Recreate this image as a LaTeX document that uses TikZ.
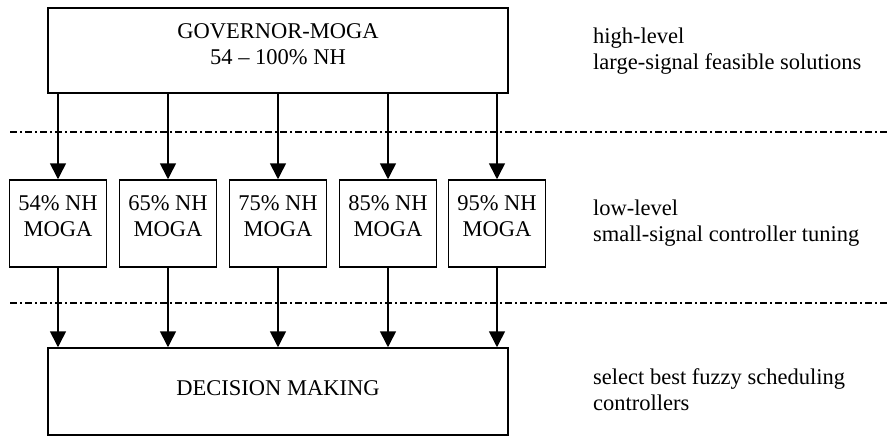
\documentclass[tikz,border=0pt]{standalone}
\usepackage{fontspec}
\setmainfont{Liberation Serif}
\usetikzlibrary{arrows.meta}
\begin{document}
\begin{tikzpicture}[x=1pt,y=-1pt,
  every node/.style={font=\fontsize{22.5}{26}\selectfont, inner sep=0pt},
  box/.style={draw, line width=1.5pt, minimum height=86pt},
  bigbox/.style={box, minimum width=460pt},
  smallbox/.style={box, minimum width=97pt, minimum height=87pt},
  lbl/.style={align=center, anchor=north},
  note/.style={align=left, anchor=north west},
  arr/.style={line width=1.6pt, -{Triangle[width=16pt,length=16pt]}},
  sep/.style={line width=1.2pt, dash pattern=on 7pt off 3pt on 2pt off 3pt}]
\useasboundingbox (0,0) rectangle (887,436);

% upper level
\node[bigbox, minimum height=85pt] (gov) at (278,50.5) {};
\node[lbl] (govtext) at (278,23) {GOVERNOR-MOGA\\54 – 100\% NH};

% middle level: one MOGA per operating point
\foreach \n/\x/\p in {1/58/54, 2/168/65, 3/278/75, 4/388/85, 5/497/95} {
  \node[smallbox] (m\n) at (\x,223.5) {};
  \node[lbl] (mt\n) at (\x,195.5) {\p\% NH\\MOGA};
}

% lower level
\node[bigbox, minimum height=87pt] (dec) at (278,391.5) {};
\node[anchor=base] (dectext) at (278,395) {DECISION MAKING};

% connections
\foreach \n in {1,...,5} {
  \draw[arr] (gov.south -| m\n) -- (m\n.north);
  \draw[arr] (m\n.south) -- (dec.north -| m\n);
}

% level separators
\coordinate (s1a) at (10,132);
\coordinate (s1b) at (887,132);
\coordinate (s2a) at (10,303);
\coordinate (s2b) at (887,303);
\draw[sep] (s1a) -- (s1b);
\draw[sep] (s2a) -- (s2b);

% level descriptions
\node[note] (n1) at (593,27.5) {high-level\\large-signal feasible solutions};
\node[note] (n2) at (593,200) {low-level\\small-signal controller tuning};
\node[note] (n3) at (593,368) {select best fuzzy scheduling\\controllers};
\end{tikzpicture}
\end{document}
